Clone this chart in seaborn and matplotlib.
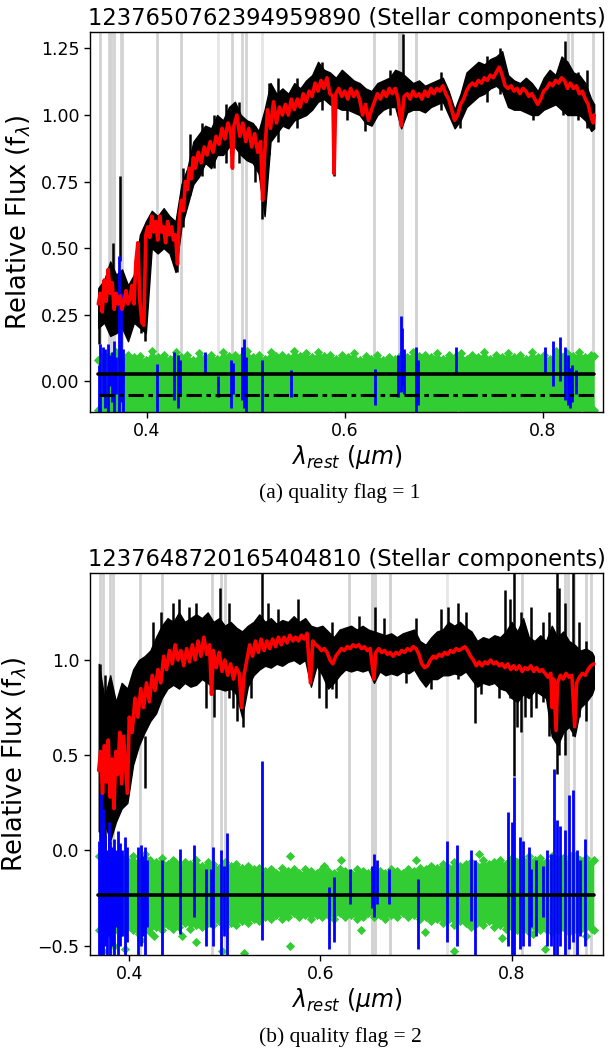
import numpy as np
import matplotlib
matplotlib.use("Agg")
import matplotlib.pyplot as plt
import seaborn as sns

# ---------------- Panel (a) data ----------------
title_a = "1237650762394959890 (Stellar components)"
caption_a = "(a) quality flag = 1"

wl_a = [0.351, 0.357, 0.363, 0.369, 0.375, 0.381, 0.387, 0.393, 0.399, 0.405,
        0.411, 0.417, 0.423, 0.429, 0.435, 0.441, 0.447, 0.453, 0.459, 0.465,
        0.471, 0.477, 0.483, 0.489, 0.495, 0.501, 0.507, 0.513, 0.519, 0.525,
        0.531, 0.537, 0.543, 0.549, 0.555, 0.561, 0.567, 0.573, 0.579, 0.585,
        0.591, 0.597, 0.603, 0.609, 0.615, 0.621, 0.627, 0.633, 0.639, 0.645,
        0.651, 0.657, 0.663, 0.669, 0.675, 0.681, 0.687, 0.693, 0.699, 0.705,
        0.711, 0.717, 0.723, 0.729, 0.735, 0.741, 0.747, 0.753, 0.759, 0.765,
        0.771, 0.777, 0.783, 0.789, 0.795, 0.801, 0.807, 0.813, 0.819, 0.825,
        0.831, 0.837, 0.843, 0.849, 0.852]
black_hi_a = [0.35, 0.38, 0.45, 0.40, 0.42, 0.36, 0.40, 0.55, 0.60, 0.64,
              0.62, 0.65, 0.62, 0.60, 0.74, 0.80, 0.90, 0.93, 0.96, 0.95,
              1.00, 0.98, 1.03, 1.05, 1.00, 0.98, 0.97, 0.94, 1.02, 1.12,
              1.08, 1.10, 1.08, 1.12, 1.10, 1.13, 1.15, 1.20, 1.17, 1.16,
              1.14, 1.17, 1.15, 1.13, 1.12, 1.10, 1.09, 1.12, 1.13, 1.14,
              1.17, 1.16, 1.14, 1.12, 1.13, 1.11, 1.12, 1.13, 1.14, 1.09,
              1.02, 1.08, 1.16, 1.18, 1.20, 1.19, 1.21, 1.22, 1.24, 1.15,
              1.13, 1.12, 1.14, 1.12, 1.09, 1.14, 1.17, 1.15, 1.22, 1.20,
              1.16, 1.15, 1.12, 1.06, 1.04]
black_lo_a = [0.20, 0.22, 0.17, 0.18, 0.20, 0.15, 0.22, 0.20, 0.18, 0.50,
              0.48, 0.50, 0.48, 0.41, 0.58, 0.66, 0.74, 0.77, 0.82, 0.80,
              0.85, 0.85, 0.88, 0.88, 0.85, 0.83, 0.82, 0.78, 0.62, 0.90,
              0.93, 0.96, 0.95, 0.98, 0.99, 1.00, 1.02, 1.05, 1.06, 1.04,
              1.03, 1.02, 1.02, 1.01, 1.00, 0.97, 0.96, 1.00, 1.02, 1.03,
              1.03, 0.95, 1.01, 1.02, 1.02, 1.01, 1.03, 1.04, 1.05, 1.00,
              0.95, 0.98, 1.03, 1.05, 1.07, 1.08, 1.10, 1.11, 1.09, 1.03,
              1.02, 1.02, 1.01, 1.00, 1.00, 1.02, 1.03, 1.04, 1.02, 1.00,
              1.00, 1.00, 0.98, 0.94, 0.95]
green_hi_a = [0.080, 0.100, 0.090, 0.110, 0.085, 0.100, 0.090, 0.095, 0.080, 0.115,
              0.090, 0.100, 0.085, 0.110, 0.090, 0.100, 0.080, 0.105, 0.090, 0.100,
              0.085, 0.110, 0.095, 0.100, 0.090, 0.115, 0.090, 0.100, 0.085, 0.110,
              0.095, 0.100, 0.090, 0.115, 0.095, 0.105, 0.090, 0.110, 0.095, 0.100,
              0.085, 0.100, 0.090, 0.105, 0.080, 0.095, 0.085, 0.100, 0.080, 0.090,
              0.085, 0.100, 0.090, 0.110, 0.095, 0.100, 0.090, 0.105, 0.085, 0.100,
              0.090, 0.105, 0.085, 0.100, 0.090, 0.110, 0.085, 0.100, 0.090, 0.105,
              0.090, 0.100, 0.085, 0.110, 0.090, 0.100, 0.085, 0.115, 0.090, 0.105,
              0.095, 0.110, 0.090, 0.100, 0.095]
green_lo_a = [-0.110, -0.130, -0.120, -0.105, -0.130, -0.120, -0.110, -0.130, -0.125, -0.110,
              -0.125, -0.105, -0.130, -0.115, -0.125, -0.110, -0.130, -0.120, -0.105, -0.125,
              -0.115, -0.130, -0.110, -0.125, -0.130, -0.105, -0.120, -0.130, -0.115, -0.125,
              -0.110, -0.130, -0.120, -0.105, -0.125, -0.115, -0.130, -0.110, -0.125, -0.120,
              -0.105, -0.130, -0.115, -0.125, -0.110, -0.130, -0.120, -0.105, -0.125, -0.115,
              -0.130, -0.110, -0.125, -0.120, -0.105, -0.130, -0.115, -0.125, -0.110, -0.130,
              -0.120, -0.105, -0.125, -0.115, -0.130, -0.110, -0.125, -0.120, -0.105, -0.130,
              -0.115, -0.125, -0.110, -0.130, -0.120, -0.105, -0.125, -0.115, -0.130, -0.110,
              -0.125, -0.105, -0.120, -0.130, -0.110]

red_wl_a = [0.351, 0.353, 0.355, 0.357, 0.359, 0.361, 0.363, 0.365, 0.367, 0.369,
            0.371, 0.373, 0.375, 0.377, 0.379, 0.381, 0.383, 0.385, 0.387, 0.389,
            0.391, 0.393, 0.395, 0.397, 0.399, 0.401, 0.403, 0.405, 0.407, 0.409,
            0.411, 0.413, 0.415, 0.417, 0.419, 0.421, 0.423, 0.425, 0.427, 0.429,
            0.431, 0.433, 0.435, 0.437, 0.439, 0.441, 0.443, 0.445, 0.447, 0.449,
            0.452, 0.455, 0.458, 0.461, 0.464, 0.467, 0.470, 0.473, 0.476, 0.479,
            0.482, 0.485, 0.4865, 0.488, 0.491, 0.494, 0.497, 0.500, 0.503, 0.506,
            0.509, 0.512, 0.515, 0.517, 0.519, 0.522, 0.525, 0.528, 0.531, 0.534,
            0.537, 0.540, 0.543, 0.546, 0.549, 0.552, 0.555, 0.558, 0.561, 0.564,
            0.567, 0.570, 0.573, 0.576, 0.579, 0.582, 0.585, 0.588, 0.5892, 0.591,
            0.594, 0.597, 0.600, 0.603, 0.606, 0.609, 0.612, 0.615, 0.618, 0.621,
            0.624, 0.627, 0.630, 0.633, 0.636, 0.639, 0.642, 0.645, 0.648, 0.651,
            0.654, 0.657, 0.660, 0.663, 0.666, 0.669, 0.672, 0.675, 0.678, 0.681,
            0.684, 0.687, 0.690, 0.693, 0.696, 0.699, 0.702, 0.705, 0.708, 0.711,
            0.714, 0.717, 0.720, 0.723, 0.726, 0.729, 0.732, 0.735, 0.738, 0.741,
            0.744, 0.747, 0.750, 0.753, 0.756, 0.759, 0.762, 0.765, 0.768, 0.771,
            0.774, 0.777, 0.780, 0.783, 0.786, 0.789, 0.792, 0.795, 0.798, 0.801,
            0.804, 0.807, 0.810, 0.813, 0.816, 0.819, 0.822, 0.825, 0.828, 0.831,
            0.834, 0.837, 0.840, 0.843, 0.846, 0.849, 0.851, 0.852]
red_flux_a = [0.29, 0.33, 0.26, 0.38, 0.30, 0.42, 0.33, 0.37, 0.27, 0.33,
              0.29, 0.32, 0.27, 0.30, 0.34, 0.29, 0.31, 0.36, 0.29, 0.45,
              0.52, 0.30, 0.22, 0.21, 0.55, 0.58, 0.54, 0.62, 0.56, 0.60,
              0.53, 0.62, 0.56, 0.58, 0.52, 0.60, 0.55, 0.58, 0.53, 0.55,
              0.44, 0.62, 0.68, 0.64, 0.75, 0.72, 0.80, 0.76, 0.84, 0.80,
              0.86, 0.82, 0.88, 0.85, 0.90, 0.86, 0.92, 0.89, 0.95, 0.91,
              0.97, 0.93, 0.80, 0.96, 1.00, 0.92, 0.97, 0.90, 0.95, 0.88,
              0.93, 0.86, 0.90, 0.68, 0.85, 1.02, 0.95, 1.05, 0.97, 1.03,
              1.00, 1.04, 1.00, 1.06, 1.02, 1.06, 1.03, 1.08, 1.05, 1.09,
              1.07, 1.12, 1.09, 1.13, 1.10, 1.14, 1.08, 1.07, 0.78, 1.08,
              1.10, 1.07, 1.09, 1.06, 1.10, 1.07, 1.09, 1.06, 1.00, 1.04,
              0.98, 1.02, 1.05, 1.08, 1.06, 1.09, 1.07, 1.10, 1.08, 1.10,
              1.06, 0.96, 1.07, 1.08, 1.06, 1.09, 1.07, 1.08, 1.06, 1.09,
              1.07, 1.10, 1.08, 1.10, 1.09, 1.11, 1.08, 1.06, 1.02, 0.98,
              1.00, 1.04, 1.06, 1.09, 1.11, 1.12, 1.11, 1.13, 1.12, 1.14,
              1.13, 1.15, 1.14, 1.16, 1.18, 1.15, 1.11, 1.10, 1.11, 1.09,
              1.10, 1.08, 1.10, 1.09, 1.07, 1.08, 1.06, 1.04, 1.06, 1.09,
              1.10, 1.12, 1.11, 1.13, 1.12, 1.14, 1.13, 1.10, 1.12, 1.10,
              1.11, 1.08, 1.09, 1.06, 1.04, 0.99, 0.97, 1.00]

spike_wl_a = [0.3515, 0.3655, 0.3725, 0.3945, 0.3985, 0.4305, 0.5165, 0.5893, 0.6585, 0.8225,
              0.437, 0.444, 0.456, 0.468, 0.480, 0.493, 0.509, 0.523, 0.533, 0.552,
              0.577, 0.602, 0.620, 0.646, 0.697, 0.716, 0.744, 0.757, 0.790, 0.820,
              0.836, 0.845]
spike_lo_a = [0.14, 0.22, 0.45, 0.18, 0.15, 0.41, 0.61, 0.77, 1.05, 1.05,
              0.58, 0.70, 0.77, 0.80, 0.82, 0.82, 0.75, 0.85, 0.90, 0.95,
              1.02, 0.98, 0.94, 1.00, 1.02, 0.95, 1.05, 1.08, 0.98, 1.00,
              0.98, 0.95]
spike_hi_a = [0.33, 0.52, 0.77, 0.35, 0.40, 0.60, 0.85, 1.08, 1.305, 1.28,
              0.80, 0.93, 0.97, 1.00, 1.04, 1.05, 0.96, 1.12, 1.14, 1.14,
              1.20, 1.15, 1.05, 1.17, 1.16, 1.05, 1.22, 1.25, 1.10, 1.21,
              1.16, 1.17]

blue_wl_a = [0.3515, 0.353, 0.3555, 0.358, 0.3605, 0.3625, 0.3645, 0.3665, 0.369, 0.3715,
             0.3735, 0.376, 0.4105, 0.427, 0.432, 0.434, 0.459, 0.472, 0.4855, 0.487,
             0.496, 0.4985, 0.5005, 0.516, 0.5455, 0.6305, 0.654, 0.6565, 0.658, 0.6595,
             0.672, 0.6735, 0.712, 0.802, 0.810, 0.817, 0.8225, 0.8255, 0.828, 0.830, 0.8335]
blue_lo_a = [-0.12, -0.12, -0.05, -0.10, -0.12, -0.02, -0.08, -0.12, -0.05, -0.12,
             -0.08, -0.12, -0.12, -0.07, -0.10, -0.05, 0.03, -0.06, -0.10, -0.05,
             -0.07, -0.10, -0.12, -0.12, -0.06, -0.09, -0.06, -0.04, -0.02, -0.05,
             -0.12, -0.09, 0.03, 0.03, -0.02, 0.00, -0.07, -0.09, -0.10, -0.08, -0.05]
blue_hi_a = [0.06, 0.14, 0.13, 0.12, 0.14, 0.10, 0.11, 0.15, 0.09, 0.47,
             0.33, 0.12, 0.065, 0.11, 0.10, 0.08, 0.11, 0.02, 0.08, 0.07,
             0.13, 0.16, 0.09, 0.08, 0.04, 0.045, 0.10, 0.245, 0.20, 0.12,
             0.127, 0.08, 0.13, 0.13, 0.15, 0.164, 0.13, 0.10, 0.05, 0.06, 0.04]

level_wl_a = [0.351, 0.852]
level_solid_a = [0.027, 0.027]
dash_wl_a = [0.352, 0.6535, 0.660, 0.852]
dash_y_a = [-0.053, -0.053, -0.053, -0.053]

mask_lines_a = [0.3527, 0.3613, 0.3640, 0.3667, 0.3735, 0.3752, 0.4104, 0.4341,
                0.4861, 0.4959, 0.5007, 0.6300, 0.8255, 0.8295, 0.8510]
mask_light_a = [0.4723, 0.5160]
mask_bands_a = [(0.6535, 0.6595), (0.6708, 0.6742)]

# ---------------- Panel (b) data ----------------
title_b = "1237648720165404810 (Stellar components)"
caption_b = "(b) quality flag = 2"

wl_b = [0.368, 0.374, 0.380, 0.386, 0.392, 0.398, 0.404, 0.410, 0.416, 0.422,
        0.428, 0.434, 0.440, 0.446, 0.452, 0.458, 0.464, 0.470, 0.476, 0.482,
        0.488, 0.494, 0.500, 0.506, 0.512, 0.518, 0.524, 0.530, 0.536, 0.542,
        0.548, 0.554, 0.560, 0.566, 0.572, 0.578, 0.584, 0.590, 0.596, 0.602,
        0.608, 0.614, 0.620, 0.626, 0.632, 0.638, 0.644, 0.650, 0.656, 0.662,
        0.668, 0.674, 0.680, 0.686, 0.692, 0.698, 0.704, 0.710, 0.716, 0.722,
        0.728, 0.734, 0.740, 0.746, 0.752, 0.758, 0.764, 0.770, 0.776, 0.782,
        0.788, 0.794, 0.800, 0.806, 0.812, 0.818, 0.824, 0.830, 0.836, 0.842,
        0.848, 0.854, 0.860, 0.866, 0.872, 0.878, 0.884, 0.886]
black_hi_b = [0.98, 0.80, 0.92, 0.78, 0.88, 0.85, 0.95, 1.00, 1.02, 1.05,
              1.12, 1.18, 1.22, 1.20, 1.25, 1.20, 1.22, 1.24, 1.22, 1.25,
              1.20, 1.22, 1.18, 1.20, 1.17, 1.15, 1.18, 1.20, 1.24, 1.20,
              1.22, 1.19, 1.21, 1.20, 1.23, 1.20, 1.22, 1.18, 1.17, 1.18,
              1.15, 1.12, 1.16, 1.17, 1.18, 1.16, 1.18, 1.16, 1.15, 1.14,
              1.13, 1.14, 1.12, 1.14, 1.15, 1.16, 1.10, 1.08, 1.12, 1.15,
              1.16, 1.20, 1.18, 1.20, 1.17, 1.15, 1.10, 1.12, 1.11, 1.13,
              1.12, 1.15, 1.20, 1.15, 1.22, 1.12, 1.10, 1.13, 1.10, 1.18,
              1.12, 1.15, 1.10, 1.08, 1.05, 1.06, 1.04, 1.02]
black_lo_b = [0.10, 0.15, 0.05, 0.15, 0.22, 0.25, 0.45, 0.55, 0.62, 0.68,
              0.72, 0.80, 0.85, 0.87, 0.85, 0.88, 0.86, 0.87, 0.90, 0.88,
              0.85, 0.85, 0.84, 0.85, 0.82, 0.70, 0.86, 0.92, 0.95, 0.97,
              0.96, 0.98, 0.97, 0.99, 1.00, 0.98, 1.00, 0.86, 0.97, 0.92,
              0.85, 0.88, 0.92, 0.95, 0.94, 0.95, 0.94, 0.95, 0.88, 0.94,
              0.92, 0.93, 0.92, 0.94, 0.93, 0.95, 0.90, 0.86, 0.90, 0.90,
              0.92, 0.92, 0.93, 0.92, 0.94, 0.90, 0.86, 0.88, 0.87, 0.88,
              0.85, 0.84, 0.80, 0.78, 0.82, 0.80, 0.84, 0.82, 0.80, 0.60,
              0.55, 0.62, 0.65, 0.60, 0.75, 0.78, 0.82, 0.85]
green_hi_b = [-0.03, -0.05, -0.02, -0.06, -0.04, -0.05, -0.03, -0.06, -0.04, -0.05,
              -0.06, -0.04, -0.07, -0.05, -0.08, -0.06, -0.07, -0.05, -0.08, -0.06,
              -0.07, -0.09, -0.06, -0.08, -0.07, -0.09, -0.08, -0.10, -0.09, -0.11,
              -0.10, -0.12, -0.09, -0.11, -0.10, -0.12, -0.10, -0.11, -0.12, -0.10,
              -0.11, -0.12, -0.10, -0.11, -0.12, -0.10, -0.11, -0.12, -0.10, -0.11,
              -0.12, -0.10, -0.11, -0.12, -0.10, -0.11, -0.09, -0.10, -0.08, -0.09,
              -0.07, -0.09, -0.06, -0.08, -0.07, -0.06, -0.08, -0.05, -0.07, -0.06,
              -0.05, -0.07, -0.04, -0.06, -0.05, -0.03, -0.05, -0.04, -0.06, -0.03,
              -0.05, -0.04, -0.06, -0.03, -0.05, -0.04, -0.06, -0.05]
green_lo_b = [-0.42, -0.40, -0.44, -0.41, -0.43, -0.40, -0.42, -0.44, -0.41, -0.43,
              -0.40, -0.42, -0.39, -0.41, -0.40, -0.38, -0.41, -0.39, -0.40, -0.38,
              -0.39, -0.37, -0.40, -0.38, -0.39, -0.37, -0.38, -0.36, -0.37, -0.35,
              -0.36, -0.34, -0.36, -0.35, -0.33, -0.35, -0.34, -0.36, -0.34, -0.35,
              -0.34, -0.36, -0.33, -0.35, -0.34, -0.36, -0.35, -0.33, -0.35, -0.34,
              -0.36, -0.34, -0.35, -0.33, -0.35, -0.34, -0.36, -0.35, -0.37, -0.36,
              -0.38, -0.36, -0.39, -0.37, -0.38, -0.40, -0.38, -0.39, -0.37, -0.40,
              -0.39, -0.41, -0.40, -0.42, -0.41, -0.43, -0.40, -0.42, -0.41, -0.43,
              -0.42, -0.40, -0.43, -0.41, -0.42, -0.40, -0.41, -0.42]
green_out_wl_b = [0.372, 0.384, 0.395, 0.412, 0.416, 0.426, 0.448, 0.455, 0.470, 0.497,
                  0.520, 0.568, 0.568, 0.604, 0.622, 0.642, 0.700, 0.709, 0.740, 0.766,
                  0.780, 0.790, 0.822, 0.835, 0.862, 0.878]
green_out_y_b = [-0.53, -0.50, -0.52, -0.47, -0.02, -0.45, -0.06, -0.45, -0.48, -0.53,
                 -0.54, -0.03, -0.50, -0.08, -0.05, -0.42, -0.05, -0.43, -0.53, -0.02,
                 -0.08, -0.46, -0.44, -0.52, -0.03, -0.45]

red_wl_b = [0.368, 0.370, 0.372, 0.374, 0.376, 0.378, 0.380, 0.382, 0.384, 0.386,
            0.388, 0.390, 0.392, 0.394, 0.396, 0.398, 0.400, 0.403, 0.406, 0.409,
            0.412, 0.415, 0.418, 0.421, 0.424, 0.427, 0.430, 0.433, 0.436, 0.439,
            0.442, 0.445, 0.448, 0.451, 0.454, 0.457, 0.460, 0.463, 0.466, 0.469,
            0.472, 0.475, 0.478, 0.481, 0.484, 0.486, 0.488, 0.491, 0.494, 0.497,
            0.500, 0.503, 0.506, 0.509, 0.512, 0.515, 0.5175, 0.520, 0.523, 0.526,
            0.529, 0.532, 0.535, 0.538, 0.541, 0.544, 0.547, 0.550, 0.553, 0.556,
            0.559, 0.562, 0.565, 0.568, 0.571, 0.574, 0.577, 0.580, 0.583, 0.586,
            0.5895, 0.592, 0.595, 0.598, 0.601, 0.604, 0.607, 0.610, 0.613, 0.616,
            0.619, 0.622, 0.625, 0.628, 0.631, 0.634, 0.637, 0.640, 0.643, 0.646,
            0.649, 0.652, 0.6545, 0.656, 0.658, 0.661, 0.664, 0.667, 0.670, 0.673,
            0.676, 0.679, 0.682, 0.685, 0.688, 0.691, 0.694, 0.697, 0.700, 0.703,
            0.706, 0.709, 0.712, 0.715, 0.718, 0.721, 0.724, 0.727, 0.730, 0.733,
            0.736, 0.739, 0.742, 0.745, 0.748, 0.751, 0.754, 0.757, 0.760, 0.763,
            0.766, 0.769, 0.772, 0.775, 0.778, 0.781, 0.784, 0.787, 0.790, 0.793,
            0.796, 0.799, 0.802, 0.805, 0.808, 0.811, 0.814, 0.817, 0.820, 0.823,
            0.826, 0.829, 0.832, 0.835, 0.838, 0.841, 0.8425, 0.844, 0.8465, 0.848,
            0.851, 0.854, 0.857, 0.860, 0.863, 0.866, 0.868, 0.871, 0.874, 0.877,
            0.880, 0.883, 0.886]
red_flux_b = [0.42, 0.52, 0.30, 0.55, 0.36, 0.58, 0.28, 0.48, 0.22, 0.52,
              0.40, 0.62, 0.35, 0.60, 0.45, 0.30, 0.70, 0.62, 0.80, 0.70,
              0.85, 0.75, 0.88, 0.78, 0.92, 0.84, 0.95, 0.88, 1.02, 0.95,
              1.05, 0.98, 1.08, 1.00, 1.05, 0.97, 1.06, 0.99, 1.08, 1.00,
              1.10, 1.02, 1.12, 1.03, 1.08, 0.82, 1.05, 0.96, 1.04, 0.94,
              1.00, 0.92, 0.98, 0.90, 0.96, 0.93, 0.75, 0.92, 1.00, 1.08,
              1.02, 1.10, 1.04, 1.11, 1.05, 1.10, 1.06, 1.11, 1.07, 1.12,
              1.08, 1.12, 1.09, 1.13, 1.10, 1.12, 1.10, 1.13, 1.11, 1.14,
              0.88, 1.10, 1.08, 1.07, 1.05, 1.06, 1.04, 1.00, 0.98, 1.02,
              1.04, 1.06, 1.05, 1.07, 1.06, 1.08, 1.07, 1.08, 1.06, 1.07,
              1.05, 1.06, 0.96, 0.90, 1.04, 1.06, 1.04, 1.05, 1.03, 1.04,
              1.02, 1.04, 1.03, 1.05, 1.04, 1.06, 1.05, 1.07, 1.06, 1.03,
              0.98, 0.96, 0.97, 1.00, 1.02, 1.01, 1.03, 1.02, 1.04, 1.03,
              1.05, 1.04, 1.06, 1.05, 1.06, 1.07, 1.05, 1.02, 1.00, 0.97,
              0.99, 0.97, 0.99, 0.98, 1.00, 0.98, 0.99, 0.97, 0.98, 0.96,
              0.98, 0.95, 0.97, 0.95, 0.97, 0.94, 0.96, 0.95, 0.97, 0.94,
              0.96, 0.94, 0.95, 0.93, 0.91, 0.93, 0.75, 0.90, 0.63, 0.88,
              0.92, 0.90, 0.93, 0.91, 0.92, 0.65, 0.88, 0.91, 0.93, 0.92,
              0.95, 0.97, 0.98]

spike_wl_b = [0.3695, 0.3745, 0.3790, 0.4160, 0.4460, 0.4620, 0.4950, 0.5040, 0.5190, 0.5385,
              0.5765, 0.6160, 0.6575, 0.7440, 0.7620, 0.7935, 0.7985, 0.8027, 0.8100, 0.8200,
              0.8475, 0.8500, 0.8645,
              0.425, 0.433, 0.452, 0.470, 0.480, 0.489, 0.508, 0.513, 0.527, 0.545,
              0.556, 0.598, 0.606, 0.612, 0.640, 0.666, 0.689, 0.700, 0.716, 0.726,
              0.733, 0.752, 0.768, 0.787, 0.806, 0.814, 0.826, 0.833, 0.839, 0.856,
              0.870, 0.878]
spike_lo_b = [0.05, 0.00, -0.02, 0.33, 0.90, 0.95, 1.00, 0.80, 0.65, 1.05,
              1.00, 0.80, 0.90, 0.90, 0.67, 0.85, 0.80, 0.39, 0.62, 0.70,
              0.40, 0.50, 0.60,
              0.85, 0.90, 0.95, 0.95, 0.75, 0.70, 0.75, 0.68, 0.80, 1.00,
              1.00, 0.80, 0.75, 0.85, 1.00, 1.00, 0.88, 0.95, 0.85, 1.00,
              1.00, 1.00, 0.82, 0.80, 0.65, 0.70, 0.75, 0.78, 0.60, 0.50,
              0.70, 0.68]
spike_hi_b = [0.98, 0.92, 0.85, 0.60, 1.30, 1.28, 1.38, 1.30, 0.80, 1.46,
              1.32, 0.95, 1.28, 1.30, 1.00, 1.37, 1.32, 1.46, 1.25, 1.28,
              1.46, 1.38, 1.46,
              1.20, 1.25, 1.32, 1.30, 1.00, 0.95, 1.00, 0.95, 1.00, 1.30,
              1.27, 1.00, 0.95, 1.20, 1.23, 1.22, 1.00, 1.22, 0.95, 1.27,
              1.28, 1.25, 0.95, 1.00, 1.00, 1.00, 1.00, 1.20, 1.25, 1.30,
              1.20, 1.10]

blue_wl_b = [0.3685, 0.3700, 0.3715, 0.3730, 0.3750, 0.3765, 0.3785, 0.3800, 0.3820, 0.3840,
             0.3860, 0.3880, 0.3900, 0.3925, 0.3950, 0.3975, 0.4095, 0.4120, 0.4145, 0.4160,
             0.4185, 0.4345, 0.4535, 0.4680, 0.4800, 0.4860, 0.4880, 0.4960, 0.4990, 0.5025,
             0.5385, 0.6085, 0.6140, 0.6310, 0.6535, 0.6565, 0.6590, 0.6720, 0.7020, 0.7320,
             0.7430, 0.7570, 0.7620, 0.7960, 0.8000, 0.8027, 0.8085, 0.8120, 0.8180, 0.8200,
             0.8260, 0.8330, 0.8370, 0.8410, 0.8445, 0.8470, 0.8510, 0.8560, 0.8600, 0.8640,
             0.8680, 0.8720, 0.8770]
blue_lo_b = [-0.55, -0.55, -0.40, -0.55, -0.50, -0.55, -0.45, -0.55, -0.50, -0.55,
             -0.40, -0.55, -0.50, -0.45, -0.55, -0.48, -0.55, -0.50, -0.45, -0.55,
             -0.40, -0.55, -0.44, -0.35, -0.50, -0.40, -0.50, -0.55, -0.45, -0.55,
             -0.47, -0.52, -0.48, -0.28, -0.30, -0.35, -0.28, -0.28, -0.52, -0.48,
             -0.50, -0.37, -0.55, -0.50, -0.55, -0.55, -0.52, -0.50, -0.50, -0.40,
             -0.45, -0.35, -0.50, -0.50, -0.55, -0.55, -0.50, -0.55, -0.52, -0.48,
             -0.55, -0.45, -0.50]
blue_hi_b = [0.05, 0.30, 0.10, 0.22, 0.08, 0.00, 0.15, 0.05, 0.02, 0.06,
             0.00, 0.10, 0.04, 0.00, 0.07, 0.02, 0.02, 0.03, -0.03, 0.02,
             -0.05, -0.05, 0.01, 0.03, -0.10, -0.10, 0.02, 0.00, -0.08, 0.09,
             0.47, -0.19, -0.14, -0.10, -0.08, -0.02, -0.05, -0.10, -0.15, 0.05,
             0.03, 0.00, -0.05, 0.20, 0.15, 0.386, 0.07, 0.05, 0.02, -0.10,
             -0.05, -0.08, 0.00, -0.02, 0.43, 0.16, 0.13, 0.11, 0.29, 0.32,
             0.00, -0.05, 0.06]

level_wl_b = [0.3675, 0.886]
level_solid_b = [-0.236, -0.236]

mask_lines_b = [0.3694, 0.3723, 0.3796, 0.3833, 0.4110, 0.4346, 0.4863, 0.4957,
                0.5006, 0.6301, 0.8110, 0.8558, 0.8590, 0.8650, 0.8774, 0.8835]
mask_light_b = [0.7320]
mask_bands_b = [(0.6533, 0.6595), (0.6712, 0.6750)]

# ---------------- styling ----------------
sns.set_style("ticks", {"axes.edgecolor": "black", "xtick.color": "black",
                        "ytick.color": "black", "text.color": "black",
                        "axes.labelcolor": "black"})
plt.rcParams['font.family'] = ['DejaVu Sans']
plt.rcParams['mathtext.fontset'] = 'dejavusans'

GREEN = "#32cd32"
GRAY = "#d3d3d3"
LIGHT = "#e6e6e6"

fig = plt.figure(figsize=(6.10, 10.53), dpi=100)
ax_a = fig.add_axes([90 / 610, 1 - 412 / 1053, 513 / 610, 380 / 1053])
ax_b = fig.add_axes([90 / 610, 1 - 955 / 1053, 513 / 610, 382 / 1053])


def draw_panel(ax, wl, bhi, blo, ghi, glo, rwl, rflux, swl, slo, shi,
               bwl, blo_, bhi_, lines, light, bands, lvl_wl, lvl_y):
    for w in lines:
        ax.axvline(w, color=GRAY, lw=2.0, zorder=0)
    for w in light:
        ax.axvline(w, color=LIGHT, lw=2.0, zorder=0)
    for a, b in bands:
        ax.axvspan(a, b, color=GRAY, lw=0, zorder=0)
    # residual scatter band
    ax.fill_between(wl, glo, ghi, color=GREEN, lw=0, zorder=1)
    sns.scatterplot(x=wl, y=ghi, ax=ax, marker="D", s=22, color=GREEN,
                    edgecolor=GREEN, linewidth=0, zorder=1, legend=False)
    sns.scatterplot(x=wl, y=glo, ax=ax, marker="D", s=22, color=GREEN,
                    edgecolor=GREEN, linewidth=0, zorder=1, legend=False)
    # observed spectrum (black)
    ax.fill_between(wl, blo, bhi, color="black", edgecolor="black", lw=1.0, zorder=2)
    ax.vlines(swl, slo, shi, color="black", lw=1.8, zorder=2)
    # masked residuals (blue)
    ax.vlines(bwl, blo_, bhi_, color="blue", lw=2.0, zorder=3)
    # model (red)
    sns.lineplot(x=rwl, y=rflux, ax=ax, color="red", lw=2.6, sort=False,
                 estimator=None, zorder=4)
    # zero level
    sns.lineplot(x=lvl_wl, y=lvl_y, ax=ax, color="black", lw=2.6, sort=False,
                 estimator=None, zorder=5)


draw_panel(ax_a, wl_a, black_hi_a, black_lo_a, green_hi_a, green_lo_a,
           red_wl_a, red_flux_a, spike_wl_a, spike_lo_a, spike_hi_a,
           blue_wl_a, blue_lo_a, blue_hi_a, mask_lines_a, mask_light_a, mask_bands_a,
           level_wl_a, level_solid_a)
sns.lineplot(x=dash_wl_a[:2], y=dash_y_a[:2], ax=ax_a, color="black", lw=2.2,
             dashes=False, linestyle=(0, (5, 1.5, 1.5, 1.5)), sort=False, estimator=None, zorder=5)
sns.lineplot(x=dash_wl_a[2:], y=dash_y_a[2:], ax=ax_a, color="black", lw=2.2,
             dashes=False, linestyle=(0, (5, 1.5, 1.5, 1.5)), sort=False, estimator=None, zorder=5)

draw_panel(ax_b, wl_b, black_hi_b, black_lo_b, green_hi_b, green_lo_b,
           red_wl_b, red_flux_b, spike_wl_b, spike_lo_b, spike_hi_b,
           blue_wl_b, blue_lo_b, blue_hi_b, mask_lines_b, mask_light_b, mask_bands_b,
           level_wl_b, level_solid_b)
sns.scatterplot(x=green_out_wl_b, y=green_out_y_b, ax=ax_b, marker="D", s=22,
                color=GREEN, linewidth=0, zorder=1, legend=False)

ax_a.set_xlim(0.3426, 0.8609)
ax_a.set_ylim(-0.116, 1.312)
ax_a.set_yticks([0.0, 0.25, 0.5, 0.75, 1.0, 1.25])
ax_a.set_yticklabels(["0.00", "0.25", "0.50", "0.75", "1.00", "1.25"])
ax_b.set_xlim(0.3589, 0.8956)
ax_b.set_ylim(-0.549, 1.457)
ax_b.set_yticks([-0.5, 0.0, 0.5, 1.0])

for ax, t in ((ax_a, title_a), (ax_b, title_b)):
    ax.set_xticks([0.4, 0.6, 0.8])
    ax.set_title(t, fontsize=16.3, pad=5)
    ax.set_xlabel(r"$\lambda_{rest}\ (\mu m)$", fontsize=17, labelpad=2)
    ax.set_ylabel(r"Relative Flux (f$_\lambda$)", fontsize=18.5, labelpad=6)
    ax.tick_params(labelsize=12.5, direction="out", length=4, width=1)
    for s in ax.spines.values():
        s.set_visible(True)
        s.set_linewidth(1.0)

fig.text(340 / 610, 1 - 493 / 1053, caption_a, ha="center", va="center",
         fontsize=15.5, family=["Liberation Serif"])
fig.text(340 / 610, 1 - 1037 / 1053, caption_b, ha="center", va="center",
         fontsize=15.5, family=["Liberation Serif"])

fig.savefig("out.png", dpi=100)
